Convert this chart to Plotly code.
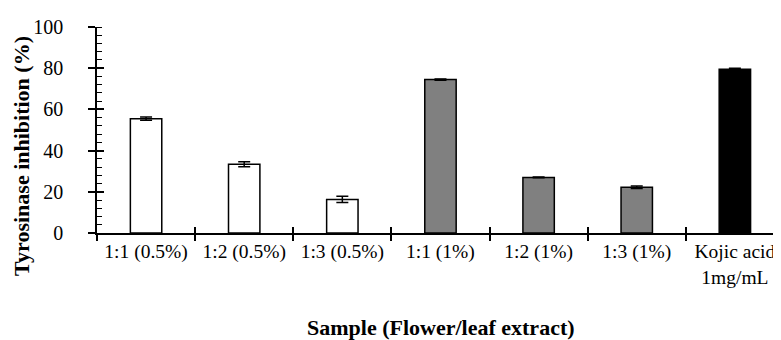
import plotly.graph_objects as go

categories = ["1:1 (0.5%)", "1:2 (0.5%)", "1:3 (0.5%)", "1:1 (1%)", "1:2 (1%)", "1:3 (1%)", "Kojic acid<br>1mg/mL"]
values = [55.5, 33.4, 16.3, 74.5, 27.0, 22.2, 79.5]
errors = [0.8, 1.2, 1.5, 0.3, 0.2, 0.6, 0.5]
colors = ["white", "white", "white", "#808080", "#808080", "#808080", "black"]
y_title = "Tyrosinase inhibition (%)"
x_title = "Sample (Flower/leaf extract)"

FONT = "'Liberation Serif', 'DejaVu Serif', serif"
N = len(categories)
XR = [-0.5, 6.47]
boundaries = [i - 0.5 for i in range(N + 1)]

fig = go.Figure()
fig.add_trace(go.Bar(
    x=list(range(N)), y=values,
    marker=dict(color=colors, line=dict(color="black", width=1.5)),
    error_y=dict(type="data", array=errors, visible=True, color="black", thickness=1.5, width=6),
    width=0.32,
))
# invisible helper trace on overlay axes so they render
fig.add_trace(go.Scatter(x=[0], y=[0], xaxis="x2", yaxis="y2", mode="markers",
                         marker=dict(opacity=0), hoverinfo="skip", showlegend=False))

common_line = dict(showline=False, showgrid=False, zeroline=False)

fig.update_layout(
    width=773, height=332,
    margin=dict(l=89, r=0, t=19, b=107, autoexpand=False),
    plot_bgcolor="white", paper_bgcolor="white",
    showlegend=False,
    font=dict(family=FONT, size=20, color="black"),
    xaxis=dict(
        type="linear", range=XR,
        tickmode="array", tickvals=list(range(N)), ticktext=categories,
        ticks="", ticklabelstandoff=0,
        minor=dict(tickmode="array", tickvals=boundaries, ticks="outside", ticklen=6,
                   tickwidth=1.5, tickcolor="black", showgrid=False),
        showline=True, linecolor="black", linewidth=1.5,
        showgrid=False, zeroline=False,
        tickfont=dict(family=FONT, size=19.5),
    ),
    xaxis2=dict(
        overlaying="x", matches="x", range=XR, side="bottom", anchor="y",
        tickmode="array", tickvals=boundaries, ticks="inside", ticklen=6,
        tickwidth=1.5, tickcolor="black", showticklabels=False, **common_line,
    ),
    yaxis=dict(
        range=[0, 100], dtick=20, tick0=0,
        ticks="outside", ticklen=7, tickwidth=1.5, tickcolor="black",
        minor=dict(dtick=4, ticks="inside", ticklen=5, tickwidth=1, tickcolor="black", showgrid=False),
        showline=True, linecolor="black", linewidth=1.5,
        showgrid=False, zeroline=False,
        ticklabelstandoff=21,
        tickfont=dict(family=FONT, size=20),
    ),
    yaxis2=dict(
        overlaying="y", matches="y", range=[0, 100], side="left", anchor="x",
        dtick=20, tick0=0, ticks="inside", ticklen=7, tickwidth=1.5, tickcolor="black",
        showticklabels=False, **common_line,
    ),
)

fig.add_annotation(
    x=(441 - 97) / 684, y=(233 - 327) / 206, xref="paper", yref="paper",
    xanchor="center", yanchor="middle",
    text="<b>" + x_title + "</b>", showarrow=False,
    font=dict(family=FONT, size=22),
)
fig.add_annotation(
    x=(21 - 97) / 684, y=(233 - 156) / 206, xref="paper", yref="paper",
    xanchor="center", yanchor="middle", textangle=-90,
    text="<b>" + y_title + "</b>", showarrow=False,
    font=dict(family=FONT, size=22),
)

fig.write_html("out.html")
